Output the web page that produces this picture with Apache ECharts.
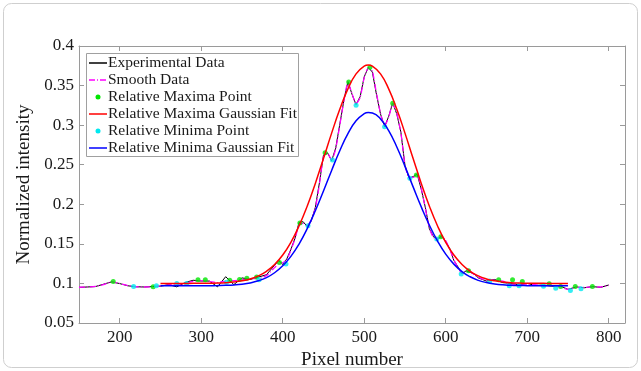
<!DOCTYPE html>
<html>
<head>
<meta charset="utf-8">
<script src="https://cdn.jsdelivr.net/npm/echarts@6/dist/echarts.min.js"></script>
<style>
html,body{margin:0;padding:0;background:#fff;}
#chart{width:641px;height:371px;}
</style>
</head>
<body>
<div id="chart"></div>
<script>
// ---- data ----
const pixels = [150,160,170,180,190,200,210,220,230,240,250,260,270,280,290,300,310,320,330,340,350,360,370,380,390,395,400,405,410,415,420,425,430,435,440,445,450,455,460,465,470,475,480,485,490,495,500,505,510,515,520,525,530,535,540,545,550,555,560,565,570,575,580,585,590,595,600,605,610,615,620,625,630,635,640,650,660,670,680,690,700,710,720,730,740,750,760,770,780,790,800];
const experimental = [0.0950,0.0955,0.0960,0.0990,0.1020,0.0998,0.0970,0.0958,0.0955,0.0960,0.0965,0.0985,0.0957,0.1010,0.1040,0.1030,0.1030,0.0957,0.1085,0.0985,0.1070,0.1050,0.1080,0.1110,0.1230,0.1290,0.1240,0.1310,0.1430,0.1570,0.1770,0.1780,0.1720,0.1790,0.1960,0.2270,0.2620,0.2650,0.2550,0.2710,0.3010,0.3310,0.3550,0.3390,0.3260,0.3360,0.3610,0.3730,0.3670,0.3390,0.3140,0.2980,0.3110,0.3280,0.3140,0.2910,0.2490,0.2330,0.2350,0.2380,0.2190,0.1960,0.1690,0.1590,0.1560,0.1600,0.1530,0.1440,0.1290,0.1210,0.1120,0.1160,0.1140,0.1120,0.1070,0.1030,0.1050,0.1010,0.1000,0.0980,0.1000,0.0975,0.0980,0.0965,0.0970,0.0925,0.0955,0.0945,0.0960,0.0950,0.0980];
const smooth = [0.0952,0.0955,0.0962,0.0985,0.1020,0.1000,0.0972,0.0958,0.0955,0.0958,0.0968,0.0980,0.0990,0.1000,0.1025,0.1035,0.1025,0.1010,0.1030,0.1035,0.1045,0.1060,0.1060,0.1100,0.1200,0.1255,0.1260,0.1300,0.1420,0.1560,0.1740,0.1760,0.1730,0.1800,0.1950,0.2250,0.2600,0.2640,0.2560,0.2700,0.3000,0.3300,0.3540,0.3400,0.3270,0.3350,0.3600,0.3720,0.3680,0.3400,0.3150,0.2990,0.3100,0.3270,0.3150,0.2900,0.2500,0.2340,0.2340,0.2370,0.2200,0.1950,0.1700,0.1580,0.1570,0.1590,0.1540,0.1430,0.1300,0.1200,0.1130,0.1150,0.1150,0.1110,0.1080,0.1040,0.1040,0.1030,0.0990,0.0990,0.0990,0.0985,0.0970,0.0975,0.0960,0.0925,0.0950,0.0950,0.0955,0.0955,0.0975];
const maximaPx  = [192,241,296,305,335,347,356,368,396,421,452,481,507,535,564,594,628,665,682,694,727,741,759,780];
const maximaVal = [0.1025,0.0958,0.1045,0.1045,0.1040,0.1050,0.1066,0.1080,0.1265,0.1765,0.2650,0.3545,0.3730,0.3277,0.2370,0.1590,0.1160,0.1045,0.1045,0.1025,0.0995,0.0960,0.0960,0.0960];
const minimaPx  = [217,245,270,282,331,371,404,431,461,490,525,556,589,619,654,678,690,720,735,753,766];
const minimaVal = [0.0960,0.0970,0.1000,0.1000,0.1016,0.1045,0.1247,0.1730,0.2560,0.3250,0.2980,0.2330,0.1560,0.1120,0.1030,0.0970,0.0970,0.0965,0.0940,0.0910,0.0932];
const fitPx = [250,260,270,280,290,300,310,320,330,340,350,360,370,380,390,400,410,420,430,440,450,460,470,480,490,500,505,510,520,530,540,550,560,570,580,590,600,610,620,630,640,650,660,670,680,690,700,710,720,730,740,750];
const maximaFit = [0.1000,0.1000,0.1000,0.1000,0.1001,0.1001,0.1002,0.1005,0.1010,0.1018,0.1033,0.1057,0.1095,0.1153,0.1239,0.1359,0.1520,0.1726,0.1975,0.2264,0.2578,0.2899,0.3200,0.3459,0.3647,0.3747,0.3760,0.3747,0.3647,0.3459,0.3200,0.2899,0.2578,0.2264,0.1975,0.1726,0.1520,0.1359,0.1239,0.1153,0.1095,0.1057,0.1033,0.1018,0.1010,0.1005,0.1002,0.1001,0.1001,0.1000,0.1000,0.1000];
const minimaFit = [0.0970,0.0970,0.0970,0.0970,0.0970,0.0970,0.0971,0.0973,0.0976,0.0981,0.0990,0.1006,0.1033,0.1074,0.1135,0.1223,0.1342,0.1498,0.1692,0.1918,0.2168,0.2428,0.2677,0.2893,0.3055,0.3145,0.3159,0.3153,0.3079,0.2930,0.2724,0.2479,0.2220,0.1967,0.1735,0.1534,0.1370,0.1244,0.1150,0.1084,0.1039,0.1011,0.0993,0.0982,0.0977,0.0973,0.0972,0.0971,0.0970,0.0970,0.0970,0.0970];
const xTicks = [200,300,400,500,600,700,800];
const yTicks = [0.05,0.1,0.15,0.2,0.25,0.3,0.35,0.4];
const seriesNames = ['Experimental Data','Smooth Data','Relative Maxima Point','Relative Maxima Gaussian Fit','Relative Minima Point','Relative Minima Gaussian Fit'];

// ---- build ----
const zip = (xs, ys) => xs.map((x, i) => [x, ys[i]]);
const FONT = '"Liberation Serif", "Times New Roman", serif';
const TXT = '#1a1a1a';
const AX = '#9a9a9a';

const C = {
  exp: '#000000', smooth: '#ff00ff', maxPt: '#00e600', maxFit: '#ff0000', minPt: '#00e8f0', minFit: '#0000ff'
};

const chart = echarts.init(document.getElementById('chart'), null, {renderer: 'canvas'});

const axisCommonX = {
  type: 'value', min: 150, max: 820,
  splitLine: {show: false},
  axisLine: {show: true, lineStyle: {color: AX, width: 1}},
  axisTick: {show: true, inside: true, length: 5, customValues: xTicks, lineStyle: {color: AX}},
};
const axisCommonY = {
  type: 'value', min: 0.05, max: 0.4,
  splitLine: {show: false},
  axisLine: {show: true, lineStyle: {color: AX, width: 1}},
  axisTick: {show: true, inside: true, length: 5, customValues: yTicks, lineStyle: {color: AX}},
};

// legend drawn as graphic (lines, dots, real text)
const lgX = 86, lgY = 53, lgW = 212, lgH = 103, rowY0 = 63, rowStep = 17;
const legendChildren = [{
  type: 'rect', shape: {x: lgX + 0.5, y: lgY + 0.5, width: lgW, height: lgH},
  style: {fill: '#fff', stroke: '#a0a0a0', lineWidth: 1}
}];
const kinds = [
  {t: 'line', c: C.exp, dash: null},
  {t: 'line', c: C.smooth, dash: [6, 2, 1, 2]},
  {t: 'dot', c: C.maxPt},
  {t: 'line', c: C.maxFit, dash: null},
  {t: 'dot', c: C.minPt},
  {t: 'line', c: C.minFit, dash: null}
];
seriesNames.forEach((name, i) => {
  const y = rowY0 + i * rowStep;
  const k = kinds[i];
  if (k.t === 'line') {
    legendChildren.push({type: 'line', shape: {x1: 89, y1: y, x2: 107, y2: y},
      style: {stroke: k.c, lineWidth: 1.5, lineDash: k.dash}});
  } else {
    legendChildren.push({type: 'circle', shape: {cx: 98, cy: y, r: 2.5}, style: {fill: k.c}});
  }
  legendChildren.push({type: 'text', style: {text: name, x: 108, y: y, font: '15.5px ' + FONT,
    fill: TXT, verticalAlign: 'middle', align: 'left'}});
});

const option = {
  animation: false,
  backgroundColor: '#ffffff',
  grid: {left: 79, right: 16, top: 46, bottom: 48, outerBoundsMode: 'none', containLabel: false},
  xAxis: [
    Object.assign({}, axisCommonX, {
      position: 'bottom',
      name: 'Pixel number', nameLocation: 'middle', nameGap: 25,
      nameTextStyle: {fontFamily: FONT, fontSize: 19, color: TXT},
      axisLabel: {show: true, customValues: xTicks, margin: 6, fontFamily: FONT, fontSize: 17, color: TXT}
    }),
    Object.assign({}, axisCommonX, {position: 'top', axisLabel: {show: false}})
  ],
  yAxis: [
    Object.assign({}, axisCommonY, {
      position: 'left',
      name: 'Normalized intensity', nameLocation: 'middle', nameGap: 38,
      nameTextStyle: {fontFamily: FONT, fontSize: 19, color: TXT},
      axisLabel: {show: true, customValues: yTicks, margin: 5, fontFamily: FONT, fontSize: 17, color: TXT,
        formatter: v => String(Math.round(v * 100) / 100)}
    }),
    Object.assign({}, axisCommonY, {position: 'right', axisLabel: {show: false}})
  ],
  series: [
    {name: seriesNames[0], type: 'line', data: zip(pixels, experimental), showSymbol: false,
      lineStyle: {color: C.exp, width: 1}, z: 2},
    {name: seriesNames[1], type: 'line', data: zip(pixels, smooth), showSymbol: false, smooth: 0.2,
      lineStyle: {color: C.smooth, width: 1.3, type: [6, 2, 1, 2]}, z: 3},
    {name: seriesNames[2], type: 'scatter', data: zip(maximaPx, maximaVal), symbolSize: 5,
      itemStyle: {color: C.maxPt}, z: 4},
    {name: seriesNames[3], type: 'line', data: zip(fitPx, maximaFit), showSymbol: false, smooth: true,
      lineStyle: {color: C.maxFit, width: 1.5}, z: 5},
    {name: seriesNames[4], type: 'scatter', data: zip(minimaPx, minimaVal), symbolSize: 5,
      itemStyle: {color: C.minPt}, z: 4},
    {name: seriesNames[5], type: 'line', data: zip(fitPx, minimaFit), showSymbol: false, smooth: true,
      lineStyle: {color: C.minFit, width: 1.5}, z: 5}
  ],
  graphic: [
    {type: 'rect', silent: true, z: -10,
      shape: {x: 3.5, y: 3.5, width: 634, height: 364, r: 8},
      style: {fill: 'none', stroke: '#cfcfcf', lineWidth: 1}},
    {type: 'group', z: 100, children: legendChildren}
  ]
};
chart.setOption(option);
</script>
</body>
</html>
